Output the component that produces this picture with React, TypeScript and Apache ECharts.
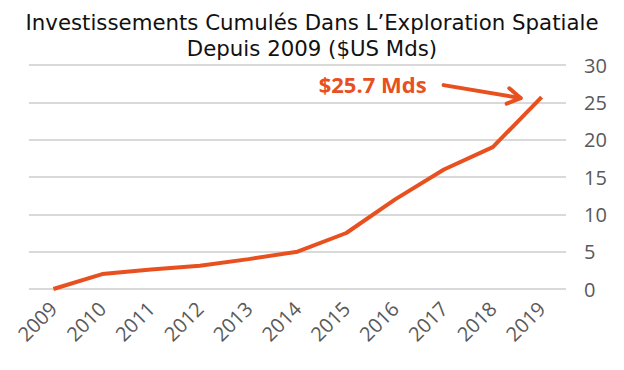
import React, { useEffect, useRef } from "react";
import * as echarts from "echarts";

const years = ["2009", "2010", "2011", "2012", "2013", "2014", "2015", "2016", "2017", "2018", "2019"];
const cumulative = [0, 2.0, 2.6, 3.1, 4.0, 5.0, 7.5, 12.0, 16.0, 19.0, 25.7];
const yTicks = { min: 0, max: 30, interval: 5 };
const titleText = "Investissements Cumulés Dans L’Exploration Spatiale\nDepuis 2009 ($US Mds)";
const annotationText = "$25.7 Mds";

const ORANGE = "#E8501F";
const FONT = "'Open Sans', 'Noto Sans', sans-serif";
const TITLE_FONT = "'DejaVu Sans', 'Open Sans', sans-serif";

export default function App() {
  const ref = useRef<HTMLDivElement>(null);
  useEffect(() => {
    if (!ref.current) return;
    const chart = echarts.init(ref.current, null, { renderer: "svg" });
    chart.setOption({
      animation: false,
      backgroundColor: "#ffffff",
      title: {
        text: titleText,
        left: "center",
        top: 4,
        textStyle: { fontFamily: TITLE_FONT, fontSize: 21.3, fontWeight: "normal", color: "#111", lineHeight: 26 },
      },
      grid: { left: 29, right: 58, top: 65, bottom: 81 },
      xAxis: {
        type: "category",
        data: years,
        boundaryGap: true,
        axisLine: { show: false },
        axisTick: { show: false },
        axisLabel: { rotate: 45, color: "#595959", fontFamily: FONT, fontSize: 20, margin: 16, interval: 0 },
      },
      yAxis: {
        type: "value",
        position: "right",
        min: yTicks.min,
        max: yTicks.max,
        interval: yTicks.interval,
        axisLine: { show: false },
        axisTick: { show: false },
        splitLine: { lineStyle: { color: "#d9d9d9", width: 2 } },
        axisLabel: { color: "#595959", fontFamily: FONT, fontSize: 20, margin: 18, align: "left" },
      },
      series: [
        {
          type: "line",
          data: cumulative,
          symbol: "none",
          lineStyle: { color: ORANGE, width: 4 },
          z: 5,
        },
      ],
    });
    const last = cumulative.length - 1;
    const p = chart.convertToPixel({ gridIndex: 0 }, [last, cumulative[last]]) as number[];
    const ex = p[0] - 21;
    const ey = p[1] + 1;
    const sx = ex - 77;
    const sy = ey - 13;
    const ang = Math.atan2(ey - sy, ex - sx);
    const hl = 15;
    const a1 = ang + Math.PI - 0.55;
    const a2 = ang + Math.PI + 0.55;
    chart.setOption({
      graphic: [
        {
          type: "text",
          x: sx - 17,
          y: sy - 1,
          style: {
            text: annotationText,
            fill: ORANGE,
            font: `bold 22px ${FONT}`,
            textAlign: "right",
            textVerticalAlign: "middle",
          },
        },
        {
          type: "line",
          shape: { x1: sx, y1: sy, x2: ex, y2: ey },
          style: { stroke: ORANGE, lineWidth: 4, lineCap: "round" },
        },
        {
          type: "polyline",
          shape: {
            points: [
              [ex + hl * Math.cos(a1), ey + hl * Math.sin(a1)],
              [ex, ey],
              [ex + hl * Math.cos(a2), ey + hl * Math.sin(a2)],
            ],
          },
          style: { stroke: ORANGE, lineWidth: 4, fill: "none", lineCap: "round", lineJoin: "round" },
        },
      ],
    });
    return () => chart.dispose();
  }, []);
  return <div ref={ref} style={{ width: 624, height: 370, position: "absolute", left: 0, top: 0 }} />;
}
